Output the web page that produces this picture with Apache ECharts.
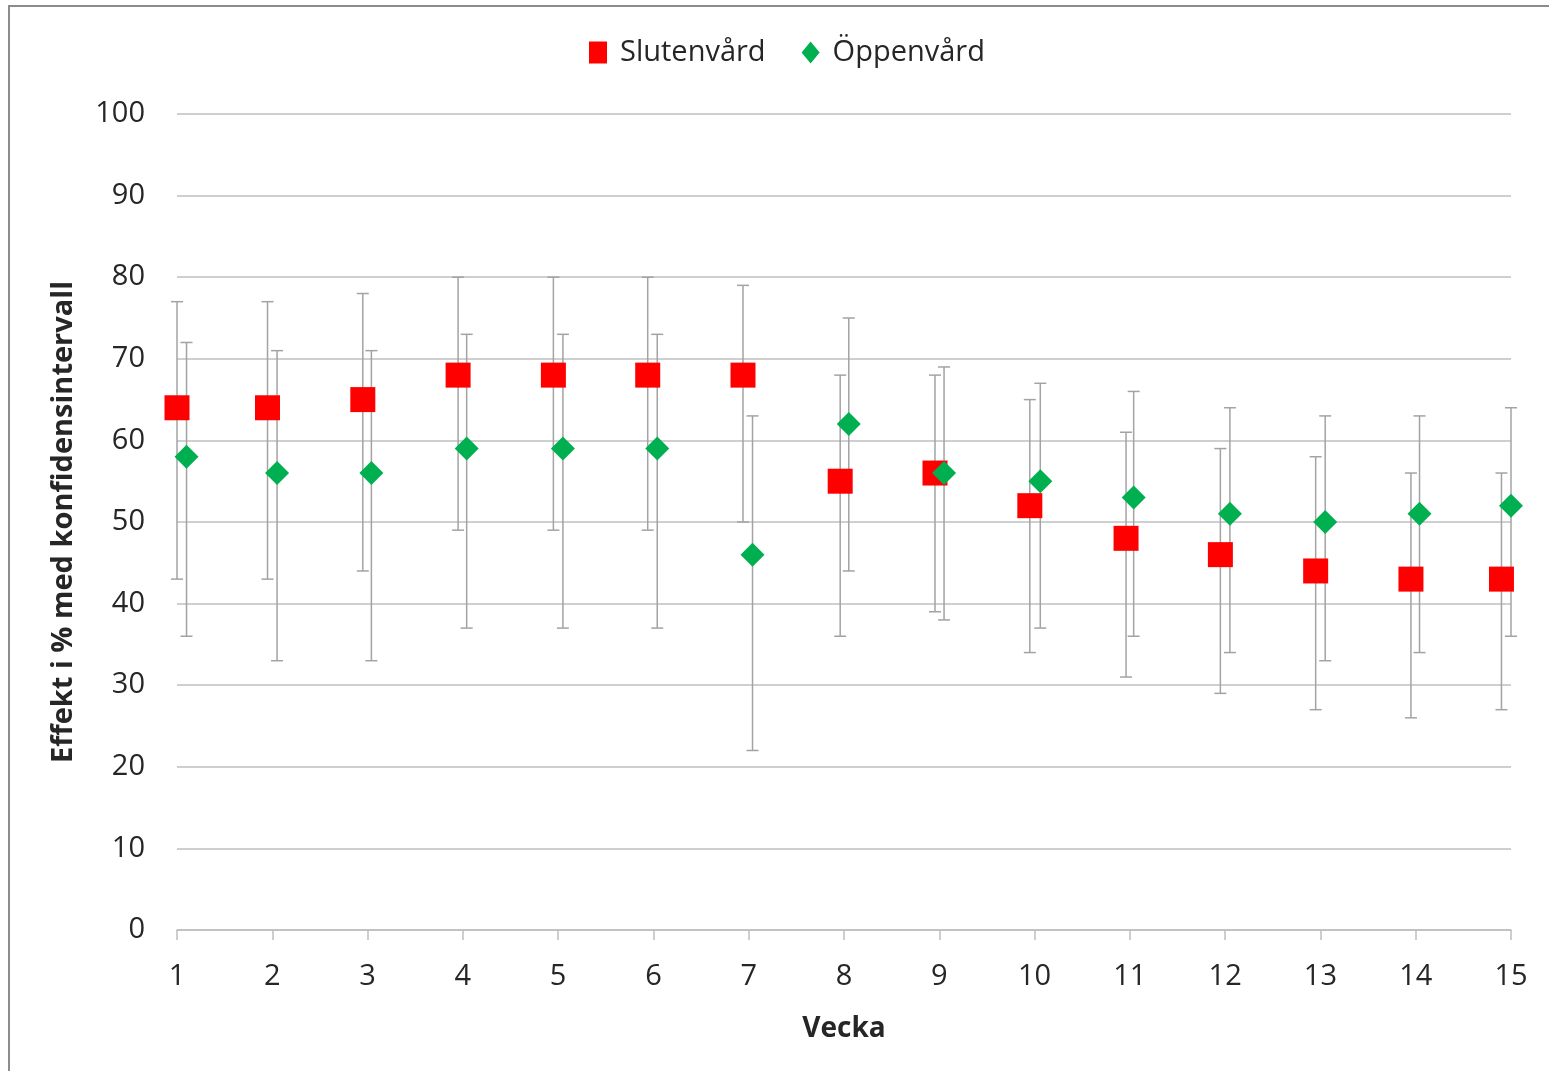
<!DOCTYPE html>
<html>
<head>
<meta charset="utf-8">
<script src="https://cdn.jsdelivr.net/npm/echarts@6/dist/echarts.min.js"></script>
<style>
  html, body { margin: 0; padding: 0; background: #fff; }
  #main { width: 1549px; height: 1071px; }
</style>
</head>
<body>
<div id="main"></div>
<script>
// veckor och värden
var weeks = [1, 2, 3, 4, 5, 6, 7, 8, 9, 10, 11, 12, 13, 14, 15];

// Slutenvård (röda kvadrater), något förskjutna åt vänster
var xSluten = [1.0, 1.95, 2.95, 3.95, 4.95, 5.94, 6.94, 7.96, 8.955, 9.95, 10.96, 11.95, 12.95, 13.95, 14.9];
var sluten = [64, 64, 65, 68, 68, 68, 68, 55, 56, 52, 48, 46, 44, 43, 43];
var slutenHigh = [77, 77, 78, 80, 80, 80, 79, 68, 68, 65, 61, 59, 58, 56, 56];
var slutenLow = [43, 43, 44, 49, 49, 49, 50, 36, 39, 34, 31, 29, 27, 26, 27];

// Öppenvård (gröna romber), något förskjutna åt höger
var xOppen = [1.1, 2.05, 3.04, 4.04, 5.05, 6.04, 7.04, 8.05, 9.05, 10.06, 11.04, 12.05, 13.05, 14.04, 15.0];
var oppen = [58, 56, 56, 59, 59, 59, 46, 62, 56, 55, 53, 51, 50, 51, 52];
var oppenHigh = [72, 71, 71, 73, 73, 73, 63, 75, 69, 67, 66, 64, 63, 63, 64];
var oppenLow = [36, 33, 33, 37, 37, 37, 22, 44, 38, 37, 36, 34, 33, 34, 36];

var font = '"Open Sans", "Noto Sans", sans-serif';

function pairs(xs, ys) {
    return xs.map(function (x, i) { return [x, ys[i]]; });
}
function bars(xs, lo, hi) {
    return xs.map(function (x, i) { return [x, lo[i], hi[i]]; });
}

function renderErr(params, api) {
    var x = api.value(0);
    var lo = api.coord([x, api.value(1)]);
    var hi = api.coord([x, api.value(2)]);
    var cap = 6;
    var style = { stroke: '#a3a3a3', lineWidth: 1.5 };
    return {
        type: 'group',
        children: [
            { type: 'line', shape: { x1: hi[0], y1: hi[1], x2: lo[0], y2: lo[1] }, style: style },
            { type: 'line', shape: { x1: hi[0] - cap, y1: hi[1], x2: hi[0] + cap, y2: hi[1] }, style: style },
            { type: 'line', shape: { x1: lo[0] - cap, y1: lo[1], x2: lo[0] + cap, y2: lo[1] }, style: style }
        ]
    };
}

var myChart = echarts.init(document.getElementById('main'));

var option = {
    animation: false,
    backgroundColor: '#fff',
    textStyle: { fontFamily: font },
    graphic: [
        { type: 'line', shape: { x1: 8, y1: 6, x2: 1549, y2: 6 }, style: { stroke: '#8c8c8c', lineWidth: 2 } },
        { type: 'line', shape: { x1: 9, y1: 6, x2: 9, y2: 1071 }, style: { stroke: '#8c8c8c', lineWidth: 2 } }
    ],
    legend: {
        data: [
            { name: 'Slutenvård', icon: 'rect' },
            { name: 'Öppenvård', icon: 'diamond' }
        ],
        top: 33,
        left: 584,
        itemWidth: 18,
        itemHeight: 22,
        itemGap: 36,
        textStyle: { fontSize: 29, color: '#262626', fontFamily: font, padding: [0, 0, 0, 8] }
    },
    grid: { left: 177, right: 38, top: 114, bottom: 141 },
    xAxis: {
        type: 'value',
        min: 1,
        max: 15,
        interval: 1,
        name: 'Vecka',
        nameLocation: 'middle',
        nameGap: 85,
        nameTextStyle: { fontSize: 28, fontWeight: 'bold', color: '#262626' },
        axisLine: { lineStyle: { color: '#bfbfbf', width: 1.5 } },
        axisTick: { show: true, length: 10, lineStyle: { color: '#bfbfbf', width: 1.5 } },
        axisLabel: { fontSize: 29, color: '#262626', margin: 32 },
        splitLine: { show: false }
    },
    yAxis: {
        type: 'value',
        min: 0,
        max: 100,
        interval: 10,
        name: 'Effekt i % med konfidensintervall',
        nameLocation: 'middle',
        nameGap: 99,
        nameTextStyle: { fontSize: 29, fontWeight: 'bold', color: '#262626' },
        axisLine: { show: false },
        axisTick: { show: false },
        axisLabel: { fontSize: 29, color: '#262626', margin: 32 },
        splitLine: { lineStyle: { color: '#bfbfbf', width: 1.5 } }
    },
    series: [
        {
            type: 'custom',
            name: 'errSluten',
            renderItem: renderErr,
            encode: { x: 0, y: [1, 2] },
            data: bars(xSluten, slutenLow, slutenHigh),
            z: 1,
            silent: true
        },
        {
            type: 'custom',
            name: 'errOppen',
            renderItem: renderErr,
            encode: { x: 0, y: [1, 2] },
            data: bars(xOppen, oppenLow, oppenHigh),
            z: 1,
            silent: true
        },
        {
            type: 'scatter',
            name: 'Slutenvård',
            symbol: 'rect',
            symbolSize: 25,
            itemStyle: { color: '#ff0000', opacity: 1 },
            data: pairs(xSluten, sluten),
            z: 3
        },
        {
            type: 'scatter',
            name: 'Öppenvård',
            symbol: 'diamond',
            symbolSize: [24, 24],
            itemStyle: { color: '#00b050', opacity: 1 },
            data: pairs(xOppen, oppen),
            z: 4
        }
    ]
};
myChart.setOption(option);
</script>
</body>
</html>
